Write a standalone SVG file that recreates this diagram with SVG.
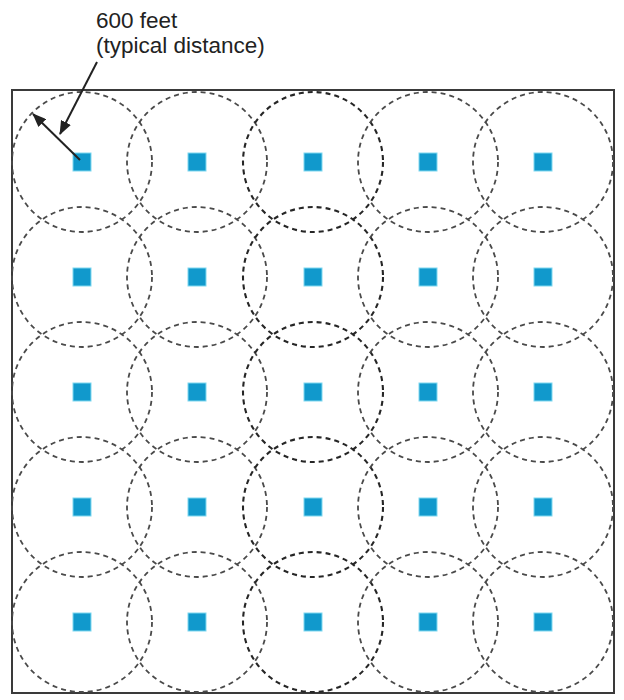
<svg xmlns="http://www.w3.org/2000/svg" width="624" height="700" viewBox="0 0 624 700">
  <style>
    .frame { fill: #ffffff; stroke: #3a3a3a; stroke-width: 2; }
    .cell { fill: none; stroke: #4a4a4a; stroke-width: 1.8; stroke-dasharray: 5 4; }
    .cell.mid { stroke: #262626; stroke-width: 2.1; }
    .ap { fill: #1199cc; stroke: #7fd8f0; stroke-width: 1; }
    .lbl { font-family: "Liberation Sans", Arial, sans-serif; font-size: 22.5px; fill: #222222; }
    .arrow { stroke: #222222; stroke-width: 2; fill: none; marker-end: url(#head); }
  </style>
  <defs>
    <marker id="head" viewBox="0 0 14 11" refX="13" refY="5.5" markerWidth="14" markerHeight="11" markerUnits="userSpaceOnUse" orient="auto">
      <path d="M0,0 L14,5.5 L0,11 Z" fill="#222222"/>
    </marker>
    <rect id="sq" x="-9" y="-9" width="18" height="18" class="ap"/>
    <circle id="cov" r="70" class="cell"/>
    <circle id="covm" r="70" class="cell mid"/>
  </defs>

  <!-- floor area -->
  <rect id="floor" x="12" y="90" width="602" height="603" class="frame"/>

  <!-- coverage cells -->
  <g id="coverage">
    <use href="#cov" x="82" y="162"/><use href="#cov" x="197" y="162"/><use href="#covm" x="313" y="162"/><use href="#cov" x="428" y="162"/><use href="#cov" x="543" y="162"/>
    <use href="#cov" x="82" y="277"/><use href="#cov" x="197" y="277"/><use href="#covm" x="313" y="277"/><use href="#cov" x="428" y="277"/><use href="#cov" x="543" y="277"/>
    <use href="#cov" x="82" y="392"/><use href="#cov" x="197" y="392"/><use href="#covm" x="313" y="392"/><use href="#cov" x="428" y="392"/><use href="#cov" x="543" y="392"/>
    <use href="#cov" x="82" y="507"/><use href="#cov" x="197" y="507"/><use href="#covm" x="313" y="507"/><use href="#cov" x="428" y="507"/><use href="#cov" x="543" y="507"/>
    <use href="#cov" x="82" y="622"/><use href="#cov" x="197" y="622"/><use href="#covm" x="313" y="622"/><use href="#cov" x="428" y="622"/><use href="#cov" x="543" y="622"/>
  </g>

  <!-- access points -->
  <g id="ap-r1"><use href="#sq" x="82" y="162"/><use href="#sq" x="197" y="162"/><use href="#sq" x="313" y="162"/><use href="#sq" x="428" y="162"/><use href="#sq" x="543" y="162"/></g>
  <g id="ap-r2"><use href="#sq" x="82" y="277"/><use href="#sq" x="197" y="277"/><use href="#sq" x="313" y="277"/><use href="#sq" x="428" y="277"/><use href="#sq" x="543" y="277"/></g>
  <g id="ap-r3"><use href="#sq" x="82" y="392"/><use href="#sq" x="197" y="392"/><use href="#sq" x="313" y="392"/><use href="#sq" x="428" y="392"/><use href="#sq" x="543" y="392"/></g>
  <g id="ap-r4"><use href="#sq" x="82" y="507"/><use href="#sq" x="197" y="507"/><use href="#sq" x="313" y="507"/><use href="#sq" x="428" y="507"/><use href="#sq" x="543" y="507"/></g>
  <g id="ap-r5"><use href="#sq" x="82" y="622"/><use href="#sq" x="197" y="622"/><use href="#sq" x="313" y="622"/><use href="#sq" x="428" y="622"/><use href="#sq" x="543" y="622"/></g>

  <!-- radius callout -->
  <g id="connectors">
    <line x1="80" y1="160" x2="33" y2="114" class="arrow"/>
    <line x1="97" y1="62" x2="60" y2="134" class="arrow"/>
  </g>
  <g id="label">
    <text class="lbl" x="96" y="28">600 feet</text>
    <text class="lbl" x="96" y="53">(typical distance)</text>
  </g>
</svg>
